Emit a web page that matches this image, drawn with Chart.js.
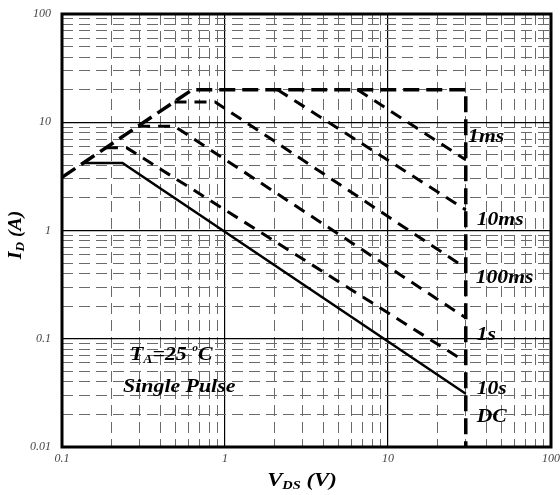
<!DOCTYPE html>
<html>
<head>
<meta charset="utf-8">
<title>Safe Operating Area</title>
<script src="https://cdn.jsdelivr.net/npm/chart.js@4.4.0/dist/chart.umd.min.js"></script>
<style>
  html, body { margin: 0; padding: 0; background: #fff; }
</style>
</head>
<body>
<canvas id="chartSoa" width="560" height="495"></canvas>
<script>
// axis ticks
const minorSteps = [1, 2, 3, 4, 5, 6, 7, 8, 9];
const xDecades = [0.1, 1, 10];
const yDecades = [0.01, 0.1, 1, 10];
const xTickLabels = ['0.1', '1', '10', '100'];
const yTickLabels = ['0.01', '0.1', '1', '10', '100'];

// boundary: Rds(on) limit, 20 A package limit, 30 V max
const limitV = [0.1, 0.63, 30, 30];
const limitI = [3.1, 20, 20, 0.01];

// pulse curves (V_DS in V, I_D in A)
const ms1V = [6.5, 30];            const ms1I = [20, 4.5];
const ms10V = [2.1, 30];           const ms10I = [20, 1.55];
const ms100V = [0.49, 0.87, 30];   const ms100I = [15.4, 15.4, 0.45];
const s1V = [0.293, 0.49, 30];     const s1I = [9.2, 9.2, 0.156];
const s10V = [0.186, 0.25, 30];    const s10I = [5.8, 5.8, 0.061];
const dcV = [0.135, 0.235, 30];    const dcI = [4.2, 4.2, 0.031];

// curve labels, anchored in data coordinates
const pulseLabels = ['1ms', '10ms', '100ms', '1s', '10s', 'DC'];
const pulseLabelV = [31, 35, 34.5, 35, 35, 35];
const pulseLabelI = [7.3, 1.25, 0.365, 0.109, 0.034, 0.019];

const noteV = [0.261, 0.237];
const noteI = [0.071, 0.036];

const SERIF = '"Liberation Serif", "Times New Roman", serif';

function isDecade(v) {
    if (v === undefined) return false;
    const l = Math.log10(v);
    return Math.abs(l - Math.round(l)) < 1e-6;
}

function buildTicks(decades, last) {
    const out = [];
    decades.forEach(d => minorSteps.forEach(m => out.push(+(d * m).toPrecision(6))));
    out.push(last);
    return out;
}

const xTicks = buildTicks(xDecades, 100);
const yTicks = buildTicks(yDecades, 100);

function pts(vs, is) {
    return vs.map((v, i) => ({ x: v, y: is[i] }));
}

function dashedSet(vs, is, width, dash) {
    return {
        data: pts(vs, is),
        showLine: true,
        borderColor: '#000',
        borderWidth: width,
        borderDash: dash,
        pointRadius: 0,
        fill: false
    };
}

// draw a run of text pieces (some sub/superscripted), stretched sideways like the scan
function drawRuns(ctx, runs, x, y, align, stretch) {
    let total = 0;
    runs.forEach(r => { ctx.font = r.font; total += ctx.measureText(r.t).width; });
    ctx.save();
    ctx.translate(x, y);
    ctx.scale(stretch, 1);
    let cx = align === 'center' ? -total / 2 : 0;
    runs.forEach(r => {
        ctx.font = r.font;
        ctx.fillText(r.t, cx, r.dy || 0);
        cx += ctx.measureText(r.t).width;
    });
    ctx.restore();
}

const textPlugin = {
    id: 'soaText',
    afterDatasetsDraw(chart) {
        const { ctx, chartArea, scales } = chart;
        const sx = scales.x, sy = scales.y;

        // frame
        ctx.save();
        ctx.strokeStyle = '#000';
        ctx.lineWidth = 3;
        ctx.strokeRect(chartArea.left, chartArea.top,
            chartArea.right - chartArea.left, chartArea.bottom - chartArea.top);
        ctx.restore();

        ctx.save();
        ctx.fillStyle = '#000';
        ctx.textBaseline = 'middle';
        ctx.textAlign = 'left';

        const big = 'italic bold 19px ' + SERIF;
        const small = 'italic bold 12px ' + SERIF;

        pulseLabels.forEach((t, i) => {
            drawRuns(ctx, [{ t: t, font: big }],
                sx.getPixelForValue(pulseLabelV[i]), sy.getPixelForValue(pulseLabelI[i]), 'left', 1.14);
        });

        drawRuns(ctx, [
            { t: 'T', font: big },
            { t: 'A', font: small, dy: 5 },
            { t: '=25 ', font: big },
            { t: 'o', font: 'italic bold 10px ' + SERIF, dy: -6 },
            { t: 'C', font: big }
        ], sx.getPixelForValue(noteV[0]), sy.getPixelForValue(noteI[0]), 'left', 1.15);
        drawRuns(ctx, [{ t: 'Single Pulse', font: big }],
            sx.getPixelForValue(noteV[1]), sy.getPixelForValue(noteI[1]), 'left', 1.15);

        // axis titles
        const tFont = 'italic bold 19px ' + SERIF;
        const tSub = 'italic bold 12px ' + SERIF;
        drawRuns(ctx, [
            { t: 'V', font: tFont },
            { t: 'DS', font: tSub, dy: 5 },
            { t: ' (V)', font: tFont }
        ], 302, 481, 'center', 1.2);

        ctx.translate(16, 235);
        ctx.rotate(-Math.PI / 2);
        drawRuns(ctx, [
            { t: 'I', font: 'italic bold 18px ' + SERIF },
            { t: 'D', font: tSub, dy: 5 },
            { t: ' (A)', font: 'italic bold 18px ' + SERIF }
        ], 0, 0, 'center', 1.1);
        ctx.restore();
    }
};

function gridOpts() {
    return {
        drawTicks: false,
        color: ctx => isDecade(ctx.tick && ctx.tick.value) ? '#000' : '#6a6a6a',
        lineWidth: ctx => isDecade(ctx.tick && ctx.tick.value) ? 1.2 : 1
    };
}

function borderOpts() {
    return {
        display: false,
        dash: ctx => (ctx.tick && !isDecade(ctx.tick.value)) ? [11, 6] : []
    };
}

new Chart(document.getElementById('chartSoa').getContext('2d'), {
    type: 'scatter',
    data: {
        datasets: [
            dashedSet(limitV, limitI, 3.5, [16, 7]),
            dashedSet(ms1V, ms1I, 3, [12, 8]),
            dashedSet(ms10V, ms10I, 3, [12, 8]),
            dashedSet(ms100V, ms100I, 3, [12, 8]),
            dashedSet(s1V, s1I, 3, [12, 8]),
            dashedSet(s10V, s10I, 3, [12, 8]),
            dashedSet(dcV, dcI, 2.5, [])
        ]
    },
    options: {
        responsive: false,
        animation: false,
        layout: { padding: { top: 14, right: 9, left: 0, bottom: 0 } },
        plugins: {
            legend: { display: false },
            tooltip: { enabled: false },
            title: { display: false }
        },
        scales: {
            x: {
                type: 'logarithmic',
                min: 0.1,
                max: 100,
                afterBuildTicks: axis => { axis.ticks = xTicks.map(v => ({ value: v })); },
                afterFit: axis => {
                    axis.height = 48;
                    axis.paddingLeft = 0;
                    axis.paddingRight = 0;
                },
                grid: gridOpts(),
                border: borderOpts(),
                ticks: {
                    autoSkip: false,
                    maxRotation: 0,
                    padding: 5,
                    color: '#444',
                    font: { family: SERIF, size: 12, style: 'italic' },
                    callback: v => isDecade(v) ? xTickLabels[Math.round(Math.log10(v)) + 1] : ''
                }
            },
            y: {
                type: 'logarithmic',
                min: 0.01,
                max: 100,
                afterBuildTicks: axis => { axis.ticks = yTicks.map(v => ({ value: v })); },
                afterFit: axis => {
                    axis.width = 62;
                    axis.paddingTop = 0;
                    axis.paddingBottom = 0;
                },
                grid: gridOpts(),
                border: borderOpts(),
                ticks: {
                    autoSkip: false,
                    padding: 11,
                    color: '#444',
                    font: { family: SERIF, size: 12, style: 'italic' },
                    callback: v => isDecade(v) ? yTickLabels[Math.round(Math.log10(v)) + 2] : ''
                }
            }
        }
    },
    plugins: [textPlugin]
});
</script>
</body>
</html>
